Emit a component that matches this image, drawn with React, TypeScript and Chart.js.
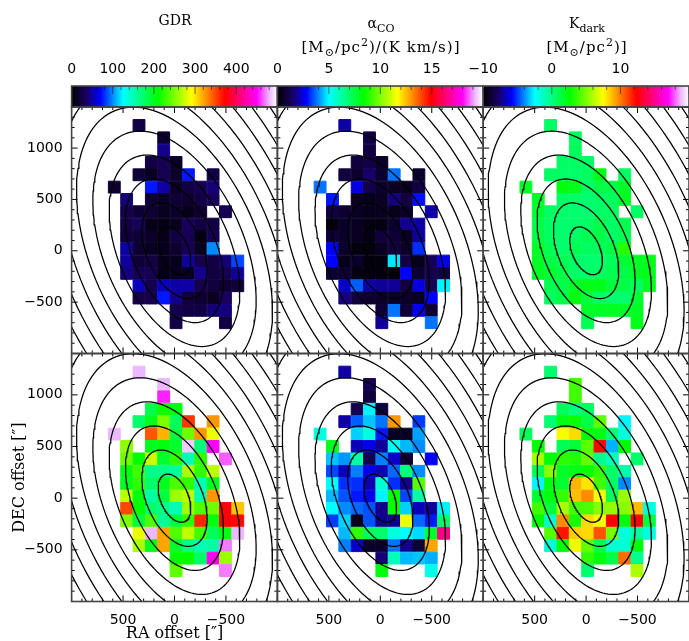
import React, { useEffect, useRef } from "react";
import Chart from "chart.js/auto";

const _ = null;
type Grid = (number | null)[][];

const columnCenters = [585, 465, 345, 225, 105, -15, -135, -255, -375, -495, -615];
const rowCenters = [1220, 1100, 980, 860, 740, 620, 500, 380, 260, 140, 20, -100, -220, -340, -460, -580, -700];
const cellSize = 120;

const gdrTop: Grid = [
  [_, _, 25, _, _, _, _, _, _, _, _],
  [_, _, _, _, 18, _, _, _, _, _, _],
  [_, _, _, _, 45, _, _, _, _, _, _],
  [_, _, _, 25, 30, 15, _, _, _, _, _],
  [_, _, 20, 12, 30, 15, 75, _, 25, _, _],
  [18, _, _, 75, 50, 15, 25, 30, 40, _, _],
  [_, 40, _, 20, 15, 20, 18, 25, 35, _, _],
  [_, 28, 20, 20, 12, 15, 10, 18, _, 30, _],
  [_, 25, 32, 8, 8, 12, 35, 25, 25, _, _],
  [_, 22, 20, 15, 10, 25, 30, 8, 30, _, _],
  [_, 50, 18, 12, 10, 18, 32, 12, 100, _, _],
  [_, 48, 20, 25, 10, 10, 48, 28, 25, 40, 85],
  [_, 42, 30, 30, 8, 12, 12, 45, 22, 30, 48],
  [_, _, 55, 28, 55, 50, 50, 28, 22, 18, 22],
  [_, _, 28, 28, 75, 45, 22, 18, 12, 35, _],
  [_, _, _, _, _, 28, 25, 25, 40, 42, _],
  [_, _, _, _, _, 25, _, _, _, 25, _],
];

const alphaTop: Grid = [
  [_, _, 2, _, _, _, _, _, _, _, _],
  [_, _, _, _, 1, _, _, _, _, _, _],
  [_, _, _, _, 1, _, _, _, _, _, _],
  [_, _, _, 0.9, 1, 0.6, _, _, _, _, _],
  [_, _, 0.9, 0.7, 1.5, 0.7, 3.8, _, 0.7, _, _],
  [3.8, _, _, 2.5, 1.1, 0.7, 0.5, 0.5, 1, _, _],
  [_, 3, _, 0.5, 0.4, 0.5, 1.7, 1, 2.9, _, _],
  [_, 1, 0.7, 0.5, 0.4, 0.5, 0.4, 0.6, _, 2, _],
  [_, 0.2, 0.6, 0.5, 0.3, 0.3, 0.7, 1.8, 2, _, _],
  [_, 0.8, 0.6, 0.5, 0.3, 0.9, 0.8, 0.5, 1.9, _, _],
  [_, 2.8, 0.6, 0.2, 0.2, 0.5, 0.9, 0.6, 3.2, _, _],
  [_, 2.8, 0.4, 0.7, 0.2, 0.2, 4.8, 1, 0.4, 1.3, 2.6],
  [_, 0.8, 0.8, 0.3, 0.2, 0.2, 0.2, 2.8, 0.7, 1.2, 0.9],
  [_, _, 2.3, 3.6, 2, 1.9, 1.9, 0.9, 2.5, 1.2, 4.9],
  [_, _, 1.7, 0.9, 0.7, 0.6, 0.6, 0.6, 0.5, 2.8, _],
  [_, _, _, _, _, 0.8, 3.8, 0.8, 2.6, 0.8, _],
  [_, _, _, _, _, 1.9, _, _, _, 3.8, _],
];

const kdarkTop: Grid = [
  [_, _, 0.6, _, _, _, _, _, _, _, _],
  [_, _, _, _, 0.7, _, _, _, _, _, _],
  [_, _, _, _, 0.8, _, _, _, _, _, _],
  [_, _, _, 0.6, 0.6, 0.6, _, _, _, _, _],
  [_, _, 0.6, 0.6, 0.5, 0.7, 2.2, _, 0.6, _, _],
  [1.8, _, _, 2.3, 2.1, 0.6, 1.2, 1.2, 1.8, _, _],
  [_, 1.8, _, 0.6, 0.5, 0.4, 0.6, 0.8, 1.9, _, _],
  [_, 1.6, 0.6, 0.5, 0.4, 0.3, 0.6, 0.7, _, 0.6, _],
  [_, 1.2, 0.6, 0.4, 0.5, 0.6, 1.2, 0.6, 1, _, _],
  [_, 1.2, 0.7, 0.4, 0.6, 1, 1.2, 0.6, 1, _, _],
  [_, 1.9, 1, 0.5, 1, 0.7, 0.8, 1.2, 3.3, _, _],
  [_, 1.9, 1.2, 1, 0.6, 0.4, 0.5, 0.8, 1.6, 1.9, 2.1],
  [_, 1.9, 1.6, 1.2, 0.5, 0.5, 0.7, 1, 1.2, 1.9, 2.1],
  [_, _, 1, 1.2, 1.9, 2.1, 2.1, 1.4, 1.2, 0.7, 1.9],
  [_, _, 0.7, 1.2, 2.3, 1.4, 0.6, 0.4, 0.4, 1.6, _],
  [_, _, _, _, _, 1.8, 1.9, 1.9, 1.8, 1.9, _],
  [_, _, _, _, _, 1, _, _, _, 2.1, _],
];

const gdrBottom: Grid = [
  [_, _, 480, _, _, _, _, _, _, _, _],
  [_, _, _, _, 480, _, _, _, _, _, _],
  [_, _, _, _, 455, _, _, _, _, _, _],
  [_, _, _, 185, 215, 205, _, _, _, _, _],
  [_, _, 175, 200, 250, 180, 355, _, 325, _, _],
  [480, _, _, 345, 315, 190, 245, 325, 285, _, _],
  [_, 255, _, 200, 205, 195, 485, 170, 450, _, _],
  [_, 245, 210, 275, 195, 225, 150, 225, _, 465, _],
  [_, 205, 230, 165, 165, 160, 265, 225, 270, _, _],
  [_, 200, 225, 175, 200, 235, 225, 150, 200, _, _],
  [_, 270, 205, 155, 190, 260, 270, 150, 325, _, _],
  [_, 350, 210, 175, 165, 150, 260, 235, 245, 375, 310],
  [_, 250, 190, 235, 160, 190, 225, 360, 205, 375, 370],
  [_, _, 285, 480, 320, 235, 270, 230, 180, 205, 480],
  [_, _, 265, 200, 320, 195, 165, 150, 155, 470, _],
  [_, _, _, _, _, 210, 210, 175, 445, 260, _],
  [_, _, _, _, _, 240, _, _, _, 470, _],
];

const alphaBottom: Grid = [
  [_, _, 2, _, _, _, _, _, _, _, _],
  [_, _, _, _, 1.2, _, _, _, _, _, _],
  [_, _, _, _, 0.9, _, _, _, _, _, _],
  [_, _, _, 1.2, 4.9, 0.9, _, _, _, _, _],
  [_, _, 2, 3.6, 4.5, 3.8, 13, _, 3.3, _, _],
  [5.4, _, _, 4.6, 5.4, 3, 0.5, 0.6, 4.2, _, _],
  [_, 8, _, 2.2, 2.6, 1.9, 5.2, 4.4, 4, _, _],
  [_, 4.5, 4.1, 6.2, 1.1, 3.9, 2.3, 0.8, _, 2.7, _],
  [_, 3.4, 2.2, 3.9, 2.6, 2.1, 3.7, 6.7, 4, _, _],
  [_, 5, 3.2, 3.2, 2.1, 5.6, 3.2, 1.8, 9.5, _, _],
  [_, 4.4, 3.5, 3, 2.6, 4.9, 8.4, 3.4, 6.2, _, _],
  [_, 5, 4, 3.7, 3.5, 1.8, 8.5, 4.6, 2.2, 1.9, 4.9],
  [_, 3.3, 4.6, 0.5, 3.5, 1.8, 1.8, 11.5, 3.7, 3, 7],
  [_, _, 4.4, 9, 7.2, 7, 5.4, 5, 4.7, 7.8, 16.5],
  [_, _, 3.9, 2.3, 0.6, 0.6, 3.8, 1.8, 0.8, 12.8, _],
  [_, _, _, _, _, 1.6, 5.9, 4.4, 4.5, 4.3, _],
  [_, _, _, _, _, 8.2, _, _, _, 5.3, _],
];

const kdarkBottom: Grid = [
  [_, _, 0.4, _, _, _, _, _, _, _, _],
  [_, _, _, _, 3.8, _, _, _, _, _, _],
  [_, _, _, _, 3.8, _, _, _, _, _, _],
  [_, _, _, 0.8, 0, 0.7, _, _, _, _, _],
  [_, _, 0.3, 2.2, 2.8, 1.2, 4.4, _, -2.6, _, _],
  [0.8, _, _, 7.3, 8.2, 2.4, 2.2, 0.2, -1.8, _, _],
  [_, 2.5, _, 0.9, 1.5, 4.3, 12.3, -3.5, 2.6, _, _],
  [_, 5.8, 2.5, 3.4, 3.2, 4.5, -0.2, -1.2, _, 0.5, _],
  [_, 0.9, 5.2, 1.8, 2.2, 2.8, 3.6, 0.5, -0.8, _, _],
  [_, -2.6, 2.3, 1.6, 8.9, 8, 3.8, 0.7, -4, _, _],
  [_, 1.6, 2.3, 3.6, 8.7, 9.7, 7.3, 0.8, 5.6, _, _],
  [_, 3.8, 1.4, 5.8, 3.9, 4, 5.2, 5.4, 5.2, 8.8, -1.9],
  [_, 2.6, -1.5, 9.7, 3, 8.2, 7.3, 12.4, 2.4, 12.4, 1.4],
  [_, _, 4.2, 12, 8.4, 8.2, 10.8, 4.8, -1.8, -0.6, -1.8],
  [_, _, -1.7, 2.4, 7.2, 4.5, 1, -1.6, -1.6, 2.5, _],
  [_, _, _, _, _, 3.5, 2.3, 1.2, 10.3, -0.2, _],
  [_, _, _, _, _, 0.4, _, _, _, 5.9, _],
];

const colormapStops: [number, number, number, number][] = [
  [0, 0, 0, 0],
  [0.07, 25, 0, 95],
  [0.14, 0, 0, 255],
  [0.25, 0, 255, 255],
  [0.42, 0, 255, 0],
  [0.583, 255, 255, 0],
  [0.745, 255, 0, 0],
  [0.9, 255, 0, 255],
  [0.96, 235, 185, 255],
  [1, 255, 255, 255],
];

const contourLevels = [1, 2, 3, 4, 5, 6, 7, 8, 9, 10, 11, 12, 13, 14, 15, 16, 17, 18, 19, 20];
const contourSemiX = 158.7;
const contourSemiY = 233;
const contourTilt = 0.42;

const xTickLabels = [500, 0, -500];
const yTickLabels = [1000, 500, 0, -500];

const gdrRange = { min: 0, max: 500, major: 100, minor: 20 };
const alphaRange = { min: 0, max: 20, major: 5, minor: 1 };
const kdarkRange = { min: -10, max: 20, major: 10, minor: 2 };

const W = 689;
const H = 650;
const colEdges = [71.6, 277.4, 483.2, 689];
const rowEdges = [107, 353.5, 601.5];
const tickFont = { family: "'DejaVu Sans'", size: 14 };
const axisTitleFont = { family: "'DejaVu Serif'", size: 16 };

const fmt = (v: number) => String(v).replace("-", "\u2212");

function cmap(f: number) {
  const t = Math.max(0, Math.min(1, f));
  for (let i = 1; i < colormapStops.length; i++) {
    const a = colormapStops[i - 1];
    const b = colormapStops[i];
    if (t <= b[0]) {
      const u = (t - a[0]) / (b[0] - a[0]);
      const c = [1, 2, 3].map((k) => Math.round(a[k] + (b[k] - a[k]) * u));
      return `rgb(${c[0]},${c[1]},${c[2]})`;
    }
  }
  return "rgb(255,255,255)";
}

function contourPoints(k: number) {
  const pts: { x: number; y: number }[] = [];
  const s = Math.sqrt(1 - contourTilt * contourTilt);
  for (let i = 0; i <= 144; i++) {
    const th = (i / 144) * 2 * Math.PI;
    pts.push({
      x: k * contourSemiX * (contourTilt * Math.sin(th) + s * Math.cos(th)),
      y: k * contourSemiY * Math.sin(th),
    });
  }
  return pts;
}

const fixSize = (size: number, horizontal: boolean) => (scale: any) => {
  if (horizontal) scale.height = size;
  else scale.width = size;
  scale.paddingLeft = scale.paddingRight = scale.paddingTop = scale.paddingBottom = 0;
};

function frameTicks(sides: { x: [number, number]; y?: [number, number]; topOnly?: boolean }) {
  return {
    id: "frameTicks",
    afterDatasetsDraw(chart: any) {
      const { ctx, chartArea: a, scales } = chart;
      ctx.save();
      ctx.strokeStyle = sides.topOnly ? "rgba(0,0,0,0.7)" : "#000";
      ctx.lineWidth = sides.topOnly ? 0.8 : 1;
      const xs = scales.x;
      const [minorX, majorX] = sides.x;
      ctx.beginPath();
      for (let v = Math.ceil(xs.min / minorX) * minorX; v <= xs.max + 1e-6; v += minorX) {
        const p = xs.getPixelForValue(v);
        const major = Math.abs(v / majorX - Math.round(v / majorX)) < 1e-6;
        const len = major ? (sides.topOnly ? 8 : 6) : sides.topOnly ? 4 : 3;
        ctx.moveTo(p, a.top);
        ctx.lineTo(p, a.top + len);
        if (!sides.topOnly) {
          ctx.moveTo(p, a.bottom);
          ctx.lineTo(p, a.bottom - len);
        }
      }
      if (sides.y) {
        const ys = scales.y;
        const [minorY, majorY] = sides.y;
        for (let v = Math.ceil(ys.min / minorY) * minorY; v <= ys.max + 1e-6; v += minorY) {
          const p = ys.getPixelForValue(v);
          const len = Math.abs(v / majorY - Math.round(v / majorY)) < 1e-6 ? 6 : 3;
          ctx.moveTo(a.left, p);
          ctx.lineTo(a.left + len, p);
          ctx.moveTo(a.right, p);
          ctx.lineTo(a.right - len, p);
        }
      }
      ctx.stroke();
      ctx.strokeStyle = "#444";
      ctx.lineWidth = 1.6;
      ctx.strokeRect(a.left, a.top, a.right - a.left, a.bottom - a.top);
      ctx.restore();
    },
  };
}

function panelConfig(grid: Grid, range: { min: number; max: number }, col: number, row: number) {
  const cells: { x: number; y: number }[] = [];
  const colors: string[] = [];
  grid.forEach((r, i) =>
    r.forEach((v, j) => {
      if (v === null) return;
      cells.push({ x: columnCenters[j], y: rowCenters[i] });
      colors.push(cmap((v - range.min) / (range.max - range.min)));
    })
  );
  const bottomRow = row === 1;
  const leftCol = col === 0;
  const xTitle = bottomRow && leftCol;
  const yTitle = bottomRow && leftCol;
  const xSize = xTitle ? 42.4 : bottomRow ? 30 : 0;
  const ySize = leftCol ? 61.6 : 0;
  return {
    type: "scatter",
    data: {
      datasets: [
        ...contourLevels.map((k) => ({
          data: contourPoints(k),
          showLine: true,
          borderColor: "#000",
          borderWidth: 1.25,
          pointRadius: 0,
          tension: 0,
          order: 0,
        })),
        {
          data: cells,
          pointStyle: "rect",
          pointBackgroundColor: colors,
          pointBorderColor: colors,
          pointBorderWidth: 1,
          pointRadius: (ctx: any) => {
            const xs = ctx.chart.scales.x;
            return (Math.abs(xs.getPixelForValue(cellSize) - xs.getPixelForValue(0)) - 0.5) * Math.SQRT1_2;
          },
          order: 1,
        },
      ],
    },
    options: {
      animation: false,
      responsive: false,
      events: [],
      layout: {
        padding: {
          left: colEdges[col] - ySize,
          right: W - colEdges[col + 1],
          top: rowEdges[row],
          bottom: H - rowEdges[row + 1] - xSize,
        },
      },
      plugins: { legend: { display: false }, tooltip: { enabled: false } },
      scales: {
        x: {
          type: "linear",
          reverse: true,
          min: -1000,
          max: 1000,
          afterBuildTicks: (scale: any) => {
            scale.ticks = xTickLabels.map((value) => ({ value }));
          },
          afterFit: fixSize(xSize, true),
          grid: { display: false, drawTicks: false },
          border: { display: false },
          title: {
            display: xTitle,
            text: "RA offset [\u2033]",
            color: "#000",
            font: axisTitleFont,
            padding: 0,
          },
          ticks: {
            display: bottomRow,
            autoSkip: false,
            maxRotation: 0,
            padding: 10,
            color: "#000",
            font: tickFont,
            callback: (v: number) => fmt(v),
          },
        },
        y: {
          type: "linear",
          min: -1000,
          max: 1400,
          afterBuildTicks: (scale: any) => {
            scale.ticks = yTickLabels.map((value) => ({ value }));
          },
          afterFit: fixSize(ySize, false),
          grid: { display: false, drawTicks: false },
          border: { display: false },
          title: {
            display: yTitle,
            text: "DEC offset [\u2033]",
            color: "#000",
            font: axisTitleFont,
            padding: 0,
          },
          ticks: {
            display: leftCol,
            autoSkip: false,
            padding: 9,
            color: "#000",
            font: tickFont,
            callback: (v: number) => fmt(v),
          },
        },
      },
    },
    plugins: [frameTicks({ x: [100, 500], y: [100, 500] })],
  };
}

function colorbarConfig(range: { min: number; max: number; major: number; minor: number }, col: number) {
  return {
    type: "bar",
    data: {
      labels: [""],
      datasets: [
        {
          data: [[range.min, range.max]],
          barPercentage: 1,
          categoryPercentage: 1,
          backgroundColor: (ctx: any) => {
            const { chartArea, ctx: c } = ctx.chart;
            if (!chartArea) return "#000";
            const g = c.createLinearGradient(chartArea.left, 0, chartArea.right, 0);
            colormapStops.forEach((s) => g.addColorStop(s[0], `rgb(${s[1]},${s[2]},${s[3]})`));
            return g;
          },
        },
      ],
    },
    options: {
      indexAxis: "y",
      animation: false,
      responsive: false,
      events: [],
      layout: {
        padding: {
          left: colEdges[col],
          right: W - colEdges[col + 1],
          top: 61,
          bottom: H - rowEdges[0],
        },
      },
      plugins: { legend: { display: false }, tooltip: { enabled: false } },
      scales: {
        x: {
          type: "linear",
          position: "top",
          min: range.min,
          max: range.max,
          afterFit: fixSize(25, true),
          grid: { display: false, drawTicks: false },
          border: { display: false },
          ticks: {
            stepSize: range.major,
            autoSkip: false,
            maxRotation: 0,
            padding: 8,
            color: "#000",
            font: tickFont,
            callback: (v: number) => (v === range.max ? "" : fmt(v)),
          },
        },
        y: { display: false },
      },
    },
    plugins: [frameTicks({ x: [range.minor, range.major], topOnly: true })],
  };
}

const configs = () => [
  colorbarConfig(gdrRange, 0),
  colorbarConfig(alphaRange, 1),
  colorbarConfig(kdarkRange, 2),
  panelConfig(gdrTop, gdrRange, 0, 0),
  panelConfig(alphaTop, alphaRange, 1, 0),
  panelConfig(kdarkTop, kdarkRange, 2, 0),
  panelConfig(gdrBottom, gdrRange, 0, 1),
  panelConfig(alphaBottom, alphaRange, 1, 1),
  panelConfig(kdarkBottom, kdarkRange, 2, 1),
];

const serif: React.CSSProperties = {
  position: "absolute",
  transform: "translateX(-50%)",
  fontFamily: "'DejaVu Serif'",
  fontSize: 14,
  lineHeight: "18px",
  color: "#000",
  whiteSpace: "nowrap",
};
const unitLine: React.CSSProperties = { ...serif, fontSize: 15, letterSpacing: 1 };
const subSup: React.CSSProperties = { fontSize: 11, lineHeight: 0 };

export default function App() {
  const host = useRef<HTMLDivElement>(null);
  useEffect(() => {
    const charts: Chart[] = [];
    const canvases: HTMLCanvasElement[] = [];
    configs().forEach((cfg) => {
      const canvas = document.createElement("canvas");
      canvas.width = W;
      canvas.height = H;
      canvas.style.position = "absolute";
      canvas.style.left = "0";
      canvas.style.top = "0";
      canvas.style.display = "block";
      host.current!.appendChild(canvas);
      canvases.push(canvas);
      charts.push(new Chart(canvas, cfg as any));
    });
    return () => {
      charts.forEach((c) => c.destroy());
      canvases.forEach((c) => c.remove());
    };
  }, []);
  return (
    <div style={{ position: "fixed", left: 0, top: 0, width: W, height: 641, overflow: "hidden", background: "#fff" }}>
      <div ref={host} style={{ position: "absolute", left: 0, top: 0, width: W, height: H }} />
      <div style={{ ...serif, left: 175, top: 11 }}>GDR</div>
      <div style={{ ...serif, left: 381, top: 14 }}>
        α<sub style={subSup}>CO</sub>
      </div>
      <div style={{ ...unitLine, left: 381, top: 38 }}>
        [M<sub style={subSup}>⊙</sub>/pc<sup style={subSup}>2</sup>)/(K km/s)]
      </div>
      <div style={{ ...serif, left: 587, top: 14 }}>
        K<sub style={subSup}>dark</sub>
      </div>
      <div style={{ ...unitLine, left: 587, top: 38 }}>
        [M<sub style={subSup}>⊙</sub>/pc<sup style={subSup}>2</sup>)]
      </div>
    </div>
  );
}
